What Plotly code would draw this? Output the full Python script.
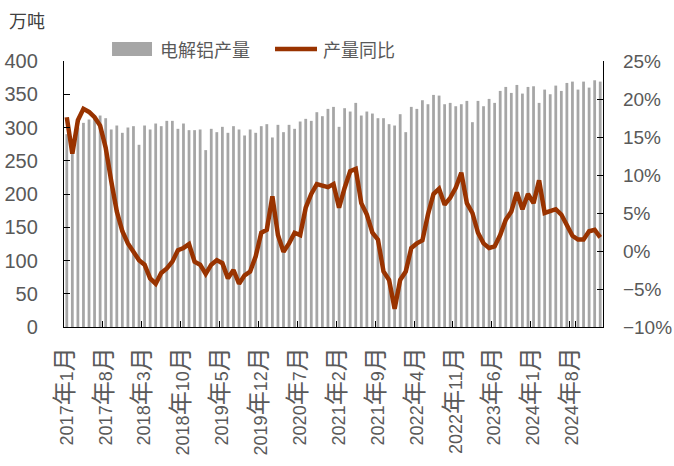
import plotly.graph_objects as go

# 月度数据：2017年1月 - 2025年1月
months = [f"{2017 + i // 12}年{i % 12 + 1}月" for i in range(97)]

# 电解铝产量（万吨）
output = [
    290, 265, 300, 307, 312, 318, 318, 314, 297, 303, 292, 300,
    302, 274, 303, 297, 306, 302, 310, 310, 298, 306, 296, 296,
    297, 266, 298, 293, 301, 292, 302, 297, 288, 297, 292, 302,
    305, 285, 304, 293, 304, 298, 309, 313, 310, 323, 317, 328,
    331, 301, 329, 324, 337, 318, 324, 321, 314, 314, 305, 303,
    320, 293, 331, 328, 341, 335, 349, 348, 335, 337, 332, 335,
    340, 308, 340, 332, 343, 337, 355, 361, 352, 364, 351, 361,
    362, 337, 357, 350, 363, 355, 367, 369, 357, 369, 360, 371,
    369,
]

# 产量同比（%）
yoy = [
    17.6, 12.8, 17.2, 18.7, 18.3, 17.6, 16.5, 13.6, 9.2, 5.2, 2.6, 1.0,
    -0.1, -1.2, -1.8, -3.6, -4.3, -2.9, -2.3, -1.4, 0.1, 0.4, 0.9, -1.4,
    -1.8, -3.0, -1.8, -1.2, -1.6, -3.6, -2.5, -4.3, -3.2, -2.7, -0.7, 2.4,
    2.8, 7.2, 2.1, -0.1, 1.0, 2.4, 2.1, 5.7, 7.5, 8.8, 8.6, 8.4,
    8.8, 5.7, 8.3, 10.5, 10.8, 6.3, 4.8, 2.4, 1.5, -2.7, -3.8, -7.6,
    -3.8, -2.7, 0.4, 1.0, 1.4, 4.8, 7.5, 8.2, 6.1, 7.0, 8.3, 10.3,
    6.3, 5.0, 2.4, 1.0, 0.4, 0.6, 2.1, 4.1, 5.2, 7.7, 5.5, 7.5,
    6.3, 9.3, 5.0, 5.2, 5.5, 4.8, 3.3, 2.0, 1.5, 1.5, 2.6, 2.8,
    1.8,
]

BAR_COLOR = '#A6A6A6'
LINE_COLOR = '#993300'
TEXT_COLOR = '#595959'

# x轴每7个月标注一次，汉字略大
shown = months[::7]
shown_text = [
    m.replace('年', "<span style='font-size:24px'>年</span>")
     .replace('月', "<span style='font-size:24px'>月</span>")
    for m in shown
]

fig = go.Figure()
fig.add_trace(go.Bar(
    x=months, y=output, name='电解铝产量',
    marker=dict(color=BAR_COLOR, line=dict(width=0)),
    showlegend=False,
))
fig.add_trace(go.Scatter(
    x=months, y=yoy, name='产量同比', yaxis='y2', mode='lines',
    line=dict(color=LINE_COLOR, width=4.5),
    showlegend=False,
))

axis_common = dict(
    showline=True, linecolor='black', linewidth=1.3,
    ticks='inside', ticklen=6, tickcolor='black', tickwidth=1.3,
    showgrid=False, zeroline=False, automargin=False,
)

fig.update_layout(
    width=674, height=466,
    margin=dict(l=64, r=71, t=61, b=139),
    paper_bgcolor='white', plot_bgcolor='white',
    bargap=0.5,
    font=dict(family='Liberation Sans, Noto Sans CJK SC', size=20, color=TEXT_COLOR),
    xaxis=dict(
        type='category', range=[-0.5, 96.5],
        tickmode='array', tickvals=shown, ticktext=shown_text,
        tickangle=-90, tickson='boundaries', ticklabelstandoff=12,
        tickfont=dict(size=18),
        **axis_common,
    ),
    yaxis=dict(range=[0, 400], dtick=50, ticklabelstandoff=21, **axis_common),
    yaxis2=dict(
        overlaying='y', side='right', range=[-10, 25], dtick=5,
        ticksuffix='%', ticklabelstandoff=15, tickfont=dict(size=19),
        **axis_common,
    ),
    showlegend=False,
)

# 图例（手工绘制）
fig.add_shape(type='rect', xref='paper', yref='paper',
              x0=0.0891, x1=0.1633, y0=1.019, y1=1.071,
              fillcolor=BAR_COLOR, line=dict(width=0))
fig.add_shape(type='line', xref='paper', yref='paper',
              x0=0.3915, x1=0.4694, y0=1.045, y1=1.045,
              line=dict(color=LINE_COLOR, width=4.5))
fig.add_annotation(text='电解铝产量', xref='paper', yref='paper',
                   x=0.1744, y=1.045, xanchor='left', yanchor='middle',
                   showarrow=False, font=dict(size=18, color=TEXT_COLOR,
                                              family='Noto Sans CJK SC'))
fig.add_annotation(text='产量同比', xref='paper', yref='paper',
                   x=0.4768, y=1.045, xanchor='left', yanchor='middle',
                   showarrow=False, font=dict(size=18, color=TEXT_COLOR,
                                              family='Noto Sans CJK SC'))
fig.add_annotation(text='万吨', xref='paper', yref='paper',
                   x=-0.106, y=1.154, xanchor='left', yanchor='middle',
                   showarrow=False, font=dict(size=18, color='#404040',
                                              family='Noto Sans CJK SC'))

# 去掉页面 body 的默认 8px 边距
fig.write_html("out.html", config={'displayModeBar': False},
               post_script="document.body.style.margin='0';")
